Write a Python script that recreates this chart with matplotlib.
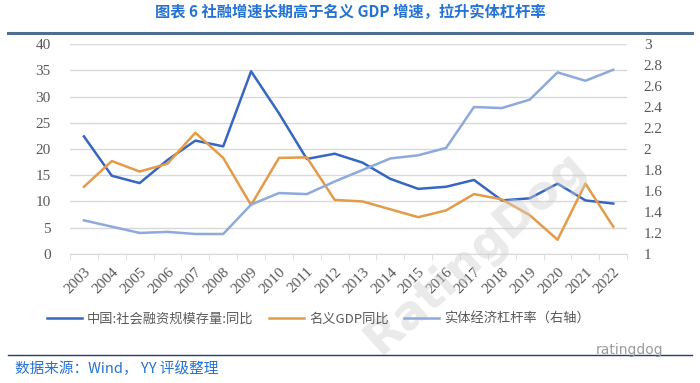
import matplotlib
matplotlib.use("Agg")
import matplotlib.pyplot as plt
import numpy as np

years = [str(y) for y in range(2003, 2023)]
tsf_yoy = [22.4, 14.9, 13.5, 17.9, 21.6, 20.5, 34.8, 26.8, 18.1, 19.1,
           17.4, 14.3, 12.4, 12.8, 14.1, 10.2, 10.6, 13.4, 10.2, 9.6]
gdp_yoy = [12.8, 17.7, 15.7, 17.2, 23.1, 18.3, 9.3, 18.3, 18.4, 10.3,
           10.0, 8.5, 7.0, 8.3, 11.4, 10.4, 7.4, 2.7, 13.4, 5.2]
leverage = [1.32, 1.26, 1.20, 1.21, 1.19, 1.19, 1.47, 1.58, 1.57, 1.69,
            1.80, 1.91, 1.94, 2.01, 2.40, 2.39, 2.47, 2.73, 2.65, 2.755]

labels = ["中国:社会融资规模存量:同比", "名义GDP同比", "实体经济杠杆率（右轴）"]
title = "图表 6 社融增速长期高于名义 GDP 增速，拉升实体杠杆率"
source = "数据来源：Wind， YY 评级整理"

c_blue = "#3766C2"
c_orange = "#E39B48"
c_light = "#8EA9DB"

fig = plt.figure(figsize=(7, 3.83), dpi=100)
ax = fig.add_axes([0.1, 0.337, 0.796, 0.548])
ax2 = ax.twinx()

x = np.arange(len(years))
l1, = ax.plot(x, tsf_yoy, color=c_blue, lw=1.8, label=labels[0], zorder=3)
l2, = ax.plot(x, gdp_yoy, color=c_orange, lw=1.8, label=labels[1], zorder=3)
l3, = ax2.plot(x, leverage, color=c_light, lw=1.8, label=labels[2], zorder=2)

ax.set_ylim(0, 40)
ax.set_yticks(range(0, 41, 5))
ax2.set_ylim(1, 3)
ax2.set_yticks([1, 1.2, 1.4, 1.6, 1.8, 2, 2.2, 2.4, 2.6, 2.8, 3])
ax2.set_yticklabels(["1", "1.2", "1.4", "1.6", "1.8", "2", "2.2", "2.4", "2.6", "2.8", "3"])
ax.set_xlim(-0.5, len(years) - 0.5)
ax.set_xticks(x)
ax.set_xticklabels(years, rotation=45, ha="right", rotation_mode="anchor")
ax.set_xticks(np.arange(-0.5, len(years)), minor=True)
ax.tick_params(axis="x", which="major", length=0, pad=8)
ax.tick_params(axis="x", which="minor", length=4, color="#D9D9D9")
ax.tick_params(axis="y", length=0, pad=14)
ax2.tick_params(axis="y", length=0, pad=12)

for a in (ax, ax2):
    for s in a.spines.values():
        s.set_visible(False)
ax.spines["bottom"].set_visible(True)
ax.spines["bottom"].set_color("#D9D9D9")
ax.grid(axis="y", color="#D9D9D9", lw=1)
ax.set_axisbelow(True)

serif = ["Liberation Serif", "DejaVu Serif"]
for t in ax.get_xticklabels() + ax.get_yticklabels() + ax2.get_yticklabels():
    t.set_fontfamily(serif)
    t.set_fontsize(11)
    t.set_color("#595959")

fig.legend(handles=[l1, l2, l3], labels=labels, loc="center", bbox_to_anchor=(0.455, 0.167),
           ncol=3, frameon=False, handlelength=2.6, columnspacing=1.2, handletextpad=0.4,
           prop={"family": ["Noto Sans CJK SC", "DejaVu Sans"], "size": 9.5},
           labelcolor="#595959")

fig.text(0.5, 0.968, title, ha="center", va="center", color="#2472D4", fontsize=11,
         fontweight="bold", family=["Noto Sans CJK SC", "DejaVu Sans"])
fig.add_artist(plt.Line2D([0.012, 0.988], [0.914, 0.914], color="#4E6E8E", lw=2.2))
fig.add_artist(plt.Line2D([0.012, 0.988], [0.073, 0.073], color="#1F3F7A", lw=1.0))
fig.text(0.022, 0.038, source, ha="left", va="center", color="#2472D4", fontsize=10.5,
         family=["Noto Sans CJK SC", "DejaVu Sans"])
fig.text(0.9, 0.085, "ratingdog", ha="center", va="center", color="#9A9A9A", fontsize=10)
fig.text(0.68, 0.34, "RatingDog", ha="center", va="center", color="#D0D0D0", alpha=0.45,
         fontsize=34, fontweight="bold", rotation=42, zorder=0)

fig.savefig("out.png", dpi=100)
